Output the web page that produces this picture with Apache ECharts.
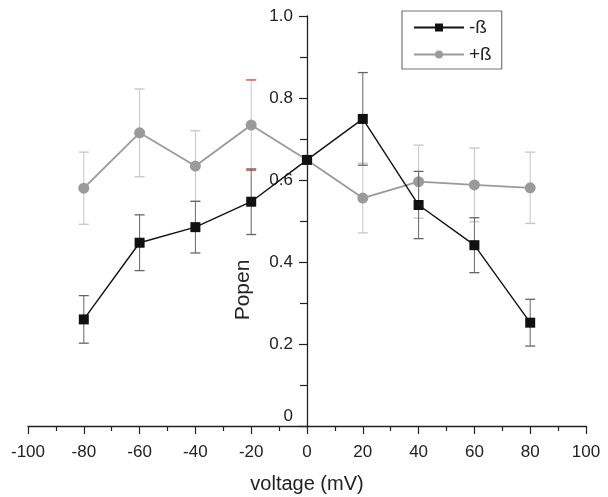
<!DOCTYPE html>
<html>
<head>
<meta charset="utf-8">
<script src="https://cdn.jsdelivr.net/npm/echarts@6/dist/echarts.min.js"></script>
<style>
  html, body { margin: 0; padding: 0; background: #fff; }
  #chart { width: 608px; height: 497px; }
</style>
</head>
<body>
<div id="chart"></div>
<script>
// Open probability vs. holding voltage, without and with the beta subunit
const voltages = [-80, -60, -40, -20, 0, 20, 40, 60, 80];
const popenMinus = [0.26, 0.447, 0.485, 0.547, 0.649, 0.749, 0.539, 0.441, 0.252];
const errMinus   = [0.058, 0.068, 0.063, 0.08, null, 0.113, 0.082, 0.067, 0.057];
const popenPlus  = [0.58, 0.715, 0.634, 0.734, 0.649, 0.556, 0.596, 0.588, 0.581];
const errPlus    = [0.088, 0.107, 0.086, 0.11, null, 0.085, 0.089, 0.09, 0.087];
const xTicks = [-100, -80, -60, -40, -20, 0, 20, 40, 60, 80, 100];
const yTicks = [0, 0.2, 0.4, 0.6, 0.8, 1.0];
// the +ß bar at this voltage has its caps marked in red
const markedVoltage = -20;

const font = 'Liberation Sans, Arial, sans-serif';
const ink = '#222';

function errorData(means, errs) {
  return voltages.map((v, i) => errs[i] == null ? null : [v, means[i] - errs[i], means[i] + errs[i]])
    .filter(d => d);
}

function errorBars(color, capColorFor) {
  return function (params, api) {
    const x = api.value(0);
    const lo = api.coord([x, api.value(1)]);
    const hi = api.coord([x, api.value(2)]);
    const half = 5;
    const capColor = capColorFor ? capColorFor(x) : color;
    return {
      type: 'group',
      children: [
        { type: 'line', shape: { x1: lo[0], y1: lo[1], x2: hi[0], y2: hi[1] },
          style: { stroke: color, lineWidth: 1 } },
        { type: 'line', shape: { x1: lo[0] - half, y1: lo[1], x2: lo[0] + half, y2: lo[1] },
          style: { stroke: capColor, lineWidth: 1.3 } },
        { type: 'line', shape: { x1: hi[0] - half, y1: hi[1], x2: hi[0] + half, y2: hi[1] },
          style: { stroke: capColor, lineWidth: 1.3 } }
      ]
    };
  };
}

const chart = echarts.init(document.getElementById('chart'), null, { renderer: 'canvas' });

const gridLeft = 28, gridRight = 22;
const plotWidth = 608 - gridLeft - gridRight;
const xMin = xTicks[0], xMax = xTicks[xTicks.length - 1];
// the value axis crosses the x axis at voltage 0
const yAxisShift = -plotWidth * (0 - xMin) / (xMax - xMin);

chart.setOption({
  animation: false,
  backgroundColor: '#fff',
  grid: { left: gridLeft, right: gridRight, top: 16, bottom: 71, outerBoundsMode: 'none', containLabel: false },
  legend: {
    left: 402, top: 11,
    orient: 'vertical',
    itemWidth: 50, itemHeight: 10, itemGap: 8,
    padding: [7, 10, 5, 11],
    borderColor: '#777', borderWidth: 1.2,
    textStyle: { fontFamily: font, fontSize: 19, color: ink },
    data: ['-ß', '+ß']
  },
  xAxis: {
    type: 'value',
    min: xMin, max: xMax, interval: 20,
    name: 'voltage (mV)', nameLocation: 'middle', nameGap: 48,
    nameTextStyle: { fontFamily: font, fontSize: 20, color: ink },
    axisLine: { show: true, onZero: false, lineStyle: { color: ink, width: 1.3 } },
    axisTick: { show: true, inside: false, length: 8, lineStyle: { color: ink, width: 1.2 } },
    minorTick: { show: true, splitNumber: 2, length: 5, lineStyle: { color: ink, width: 1.2 } },
    axisLabel: { fontFamily: font, fontSize: 17, color: ink, margin: 18 },
    splitLine: { show: false }
  },
  yAxis: {
    type: 'value',
    position: 'left',
    offset: yAxisShift,
    min: yTicks[0], max: yTicks[yTicks.length - 1], interval: 0.2,
    axisLine: { show: true, onZero: false, lineStyle: { color: ink, width: 1.3 } },
    axisTick: { show: true, inside: false, length: 8, lineStyle: { color: ink, width: 1.2 } },
    minorTick: { show: true, splitNumber: 2, length: 7, lineStyle: { color: ink, width: 1.2 } },
    axisLabel: {
      fontFamily: font, fontSize: 17, color: ink, margin: 14,
      formatter: v => v === 0 ? '{zero|0}' : (v === 1 ? '1.0' : String(Math.round(v * 10) / 10)),
      rich: { zero: { fontFamily: font, fontSize: 17, color: ink, padding: [0, 0, 20, 0] } }
    },
    splitLine: { show: false }
  },
  graphic: [{
    type: 'text',
    x: 243, y: 290,
    rotation: Math.PI / 2,
    style: { text: 'Popen', font: '21px ' + font, fill: ink, align: 'center', verticalAlign: 'middle' }
  }],
  series: [
    {
      name: '+ß err', type: 'custom', z: 1,
      renderItem: errorBars('#c6c6c6', x => x === markedVoltage ? '#e53b2c' : '#c6c6c6'),
      encode: { x: 0, y: [1, 2] },
      data: errorData(popenPlus, errPlus)
    },
    {
      name: '+ß', type: 'line', z: 2,
      data: voltages.map((v, i) => [v, popenPlus[i]]),
      symbol: 'circle', symbolSize: 11,
      lineStyle: { color: '#9a9a9a', width: 1.8 },
      itemStyle: { color: '#9a9a9a' }
    },
    {
      name: '-ß err', type: 'custom', z: 3,
      renderItem: errorBars('#666'),
      encode: { x: 0, y: [1, 2] },
      data: errorData(popenMinus, errMinus)
    },
    {
      name: '-ß', type: 'line', z: 4,
      data: voltages.map((v, i) => [v, popenMinus[i]]),
      symbol: 'rect', symbolSize: 10,
      lineStyle: { color: '#111', width: 1.4 },
      itemStyle: { color: '#111' }
    }
  ]
});
</script>
</body>
</html>
